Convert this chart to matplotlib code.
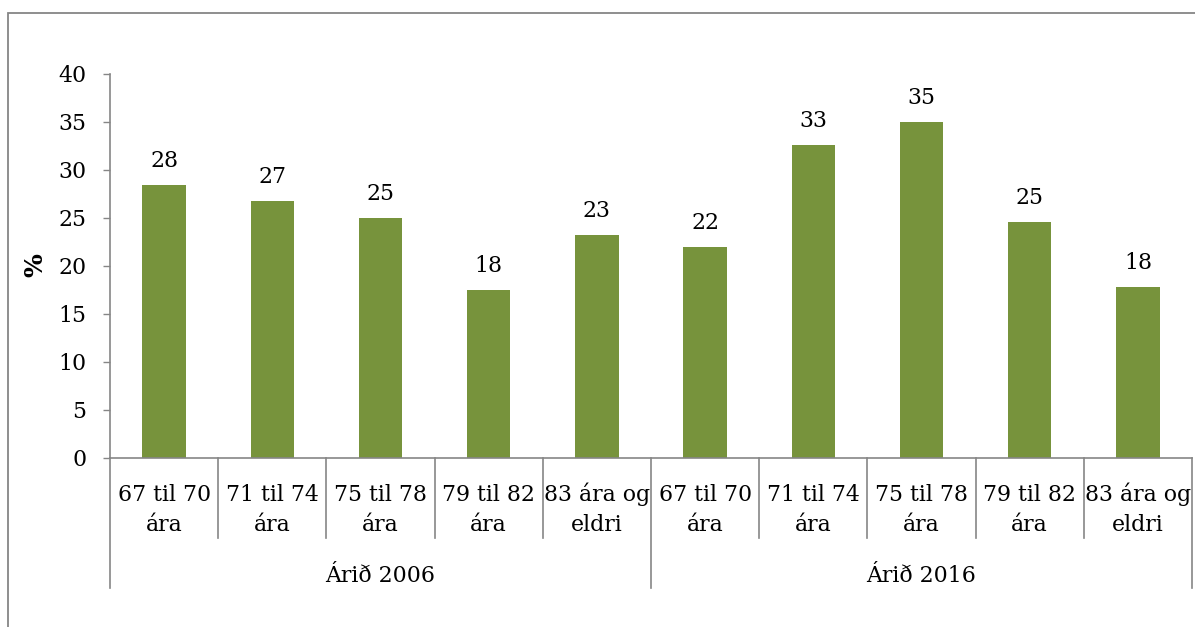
import matplotlib
matplotlib.use("Agg")
import matplotlib.pyplot as plt
from matplotlib.patches import Rectangle

# data
groups = ["Árið 2006", "Árið 2016"]
age_line1 = ["67 til 70", "71 til 74", "75 til 78", "79 til 82", "83 ára og"]
age_line2 = ["ára", "ára", "ára", "ára", "eldri"]
values_2006 = [28.4, 26.8, 25.0, 17.5, 23.2]
values_2016 = [22.0, 32.6, 35.0, 24.6, 17.8]

GREEN = "#77933C"
GREY = "#868686"
W, H = 1195, 627

plt.rcParams["font.family"] = ["DejaVu Serif"]
plt.rcParams["font.size"] = 15.8

values = values_2006 + values_2016
n_per = len(age_line1)
xs = list(range(len(values)))

fig = plt.figure(figsize=(W / 100, H / 100), dpi=100)
ax = fig.add_axes([110 / W, (H - 458) / H, (1192 - 110) / W, (458 - 74) / H])

ax.bar(xs, values, width=0.4, color=GREEN, zorder=2)
for x, v in zip(xs, values):
    ax.annotate(f"{v:.0f}", (x, v), xytext=(0, 13), textcoords="offset points",
                ha="center", va="baseline")

ax.set_xlim(-0.5, len(values) - 0.5)
ax.set_ylim(0, 40)
ax.set_yticks(range(0, 41, 5))
ax.set_xticks([])
ax.tick_params(axis="y", length=5, width=1, color=GREY, pad=12)
for s in ("top", "right"):
    ax.spines[s].set_visible(False)
for s in ("left", "bottom"):
    ax.spines[s].set_color(GREY)
    ax.spines[s].set_linewidth(1.2)

# multi-level category axis
trans = ax.get_xaxis_transform()
px = 1 / (458 - 74)
for k in range(len(values) + 1):
    xb = k - 0.5
    is_group = k % n_per == 0
    y_end = -(588 - 458) * px if is_group else -(538 - 458) * px
    ax.plot([xb, xb], [0, y_end], transform=trans, color=GREY, lw=1.2,
            clip_on=False)
for gi, g in enumerate(groups):
    for j in range(n_per):
        x = gi * n_per + j
        ax.text(x, -(501 - 458) * px, age_line1[j], transform=trans,
                ha="center", va="baseline")
        ax.text(x, -(531 - 458) * px, age_line2[j], transform=trans,
                ha="center", va="baseline")
    ax.text(gi * n_per + (n_per - 1) / 2, -(582 - 458) * px, g,
            transform=trans, ha="center", va="baseline")

fig.text(35 / W, 1 - 265 / H, "%", rotation=90, ha="center", va="center",
         fontweight="bold", fontsize=18)

fig.add_artist(Rectangle((8 / W, -0.1), 1.2, (H - 13) / H + 0.1,
                         transform=fig.transFigure, fill=False,
                         edgecolor=GREY, lw=1.3))

fig.savefig("out.png", dpi=100)
